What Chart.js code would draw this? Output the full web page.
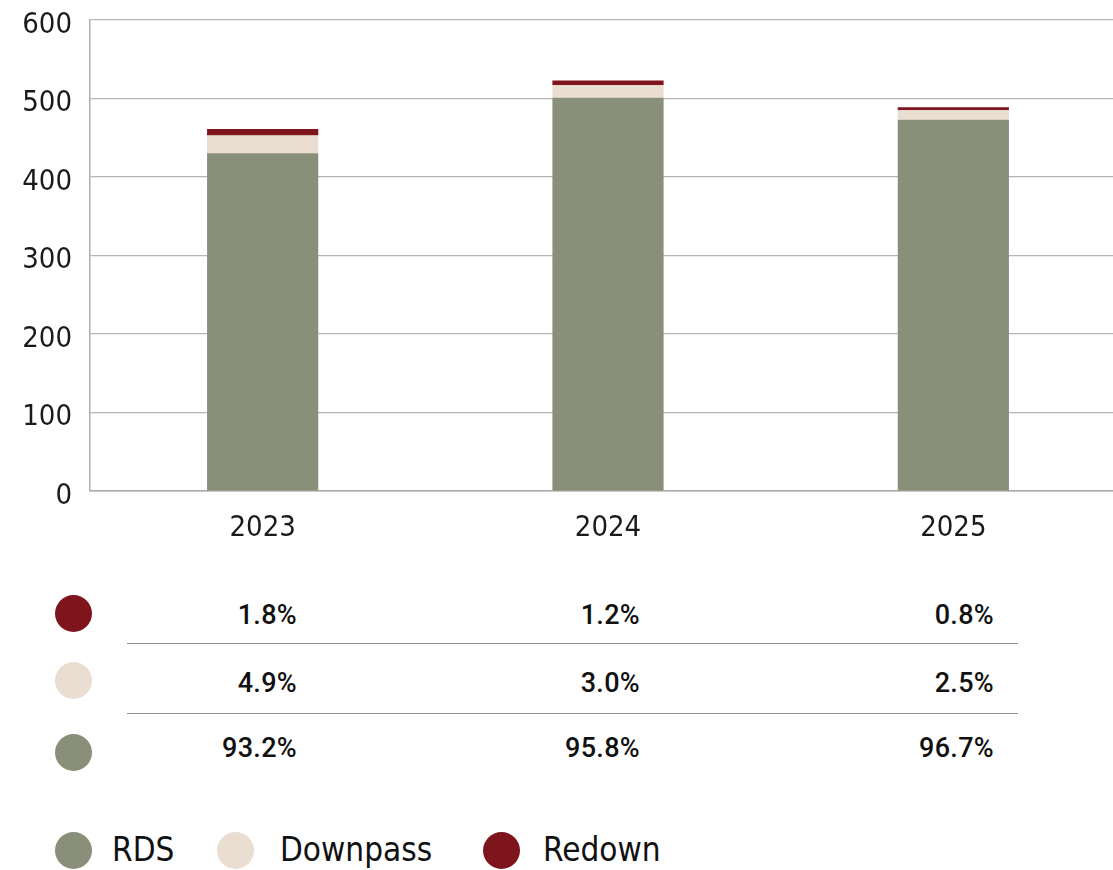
<!DOCTYPE html>
<html>
<head>
<meta charset="utf-8">
<script src="https://cdn.jsdelivr.net/npm/chart.js@4"></script>
<style>
  html, body { margin: 0; padding: 0; background: #fff; overflow: hidden; }
  body { width: 1113px; height: 870px; position: relative; }
  #chartBox { position: absolute; left: 0; top: 0; width: 1126px; height: 561px; }
  .dot { position: absolute; width: 37px; height: 37px; border-radius: 50%; }
  .pct { position: absolute; width: 120px; text-align: right; font-family: Roboto, 'Noto Sans', sans-serif;
         font-weight: 500; font-size: 27px; color: #111; line-height: 30px; letter-spacing: 0.3px; }
  .rule { position: absolute; left: 127px; width: 891px; height: 0; border-top: 1.5px solid #8f8f8f; }
  .leg { position: absolute; font-family: 'DejaVu Sans Condensed', Roboto, sans-serif;
         font-size: 33px; color: #111; line-height: 36px; }
</style>
</head>
<body>
<div id="chartBox"><canvas id="c" width="1126" height="561"></canvas></div>
<div id="table"></div>
<div id="legend"></div>
<script>
// Years on the x axis
const years = ['2023', '2024', '2025'];
// Total volume per year (bar height)
const totals = [461.5, 523, 489];
// Share of each series in the yearly total, in percent
const rdsShare = [93.2, 95.8, 96.7];
const downpassShare = [4.9, 3.0, 2.5];
const redownShare = [1.8, 1.2, 0.8];
// Y axis tick values
const yTicks = [0, 100, 200, 300, 400, 500, 600];

const seriesNames = ['RDS', 'Downpass', 'Redown'];
const colors = { RDS: '#898f78', Downpass: '#eaddd1', Redown: '#7e151c' };

// Segment heights from totals and shares
const part = (share) => share.map((s, i) => totals[i] * s / 100);

const tickFont = { family: "'DejaVu Sans Condensed', Roboto, sans-serif", size: 29 };

new Chart(document.getElementById('c'), {
  type: 'bar',
  data: {
    labels: years,
    datasets: [
      { label: 'RDS', data: part(rdsShare), backgroundColor: colors.RDS },
      { label: 'Downpass', data: part(downpassShare), backgroundColor: colors.Downpass },
      { label: 'Redown', data: part(redownShare), backgroundColor: colors.Redown }
    ]
  },
  options: {
    responsive: false,
    animation: false,
    layout: { padding: 0 },
    datasets: { bar: { categoryPercentage: 1, barPercentage: 0.322, borderWidth: 0 } },
    plugins: { legend: { display: false }, tooltip: { enabled: false } },
    scales: {
      x: {
        stacked: true,
        grid: { display: false, drawTicks: false },
        border: { display: true, color: '#a9a9a9', width: 1.5 },
        ticks: { color: '#1a1a1a', font: tickFont, padding: 20 },
        afterFit: (s) => { s.height = 70; s.paddingLeft = 0; s.paddingRight = 0; }
      },
      y: {
        stacked: true,
        min: 0, max: 600,
        afterBuildTicks: (s) => { s.ticks = yTicks.map(v => ({ value: v })); },
        grid: { color: '#b5b5b5', lineWidth: 1.2, drawTicks: false },
        border: { display: true, color: '#b0b0b0', width: 1.5 },
        ticks: { color: '#1a1a1a', font: tickFont, padding: 18, labelOffset: 5 },
        afterFit: (s) => { s.width = 90; s.paddingTop = 20; s.paddingBottom = 0; }
      }
    }
  }
});

// Share table beneath the chart
const table = document.getElementById('table');
const rows = [
  { name: 'Redown', share: redownShare, dotY: 613, textY: 615 },
  { name: 'Downpass', share: downpassShare, dotY: 680, textY: 683 },
  { name: 'RDS', share: rdsShare, dotY: 752, textY: 748 }
];
const colRight = [297, 640, 994];
rows.forEach(r => {
  const d = document.createElement('div');
  d.className = 'dot';
  d.style.background = colors[r.name];
  d.style.left = (73 - 18.5) + 'px';
  d.style.top = (r.dotY - 18.5) + 'px';
  table.appendChild(d);
  r.share.forEach((v, i) => {
    const t = document.createElement('div');
    t.className = 'pct';
    t.textContent = v.toFixed(1) + '%';
    t.style.left = (colRight[i] - 120) + 'px';
    t.style.top = (r.textY - 15) + 'px';
    table.appendChild(t);
  });
});
[643, 713].forEach(y => {
  const l = document.createElement('div');
  l.className = 'rule';
  l.style.top = y + 'px';
  table.appendChild(l);
});

// Legend row
const legend = document.getElementById('legend');
const legPos = [{ dot: 73, text: 112 }, { dot: 235, text: 280 }, { dot: 501, text: 543 }];
seriesNames.forEach((n, i) => {
  const d = document.createElement('div');
  d.className = 'dot';
  d.style.background = colors[n];
  d.style.left = (legPos[i].dot - 18.5) + 'px';
  d.style.top = (850 - 18.5) + 'px';
  legend.appendChild(d);
  const t = document.createElement('div');
  t.className = 'leg';
  t.textContent = n;
  t.style.left = legPos[i].text + 'px';
  t.style.top = (850 - 18) + 'px';
  legend.appendChild(t);
});
</script>
</body>
</html>
